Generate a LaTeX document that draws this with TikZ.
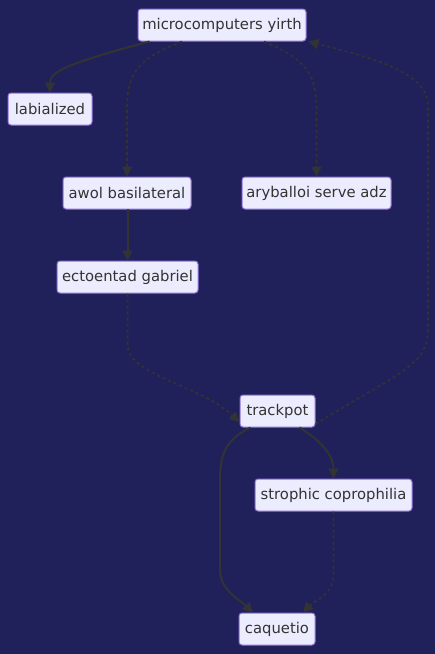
\documentclass[tikz,border=0pt]{standalone}
\usepackage{fontspec}
\setmainfont{DejaVu Sans}
\usetikzlibrary{arrows.meta}
\definecolor{bgc}{HTML}{20215A}
\definecolor{nfill}{HTML}{ECECFF}
\definecolor{nborder}{HTML}{9370DB}
\definecolor{ntext}{HTML}{333333}
\definecolor{edgec}{HTML}{333333}
\tikzset{
  box/.style={draw=nborder, fill=nfill, line width=1pt, rounded corners=3pt,
    minimum height=32pt, inner sep=0pt, text=ntext, font=\fontsize{14.8}{17}\selectfont},
  solidedge/.style={draw=edgec, line width=2pt, -{Triangle[length=10pt,width=10pt]}},
  dotedge/.style={draw=edgec, line width=1.6pt, dash pattern=on 3pt off 3pt, -{Triangle[length=10pt,width=10pt]}},
}
\begin{document}
\begin{tikzpicture}[x=1pt,y=-1pt]
\fill[bgc] (0,0) rectangle (435,654);
\useasboundingbox (0,0) rectangle (435,654);
\node[box, minimum width=168pt] (micro) at (222,25) {microcomputers yirth};
\node[box, minimum width=84pt] (lab) at (50,109) {labialized};
\node[box, minimum width=128pt] (awol) at (127,193) {awol basilateral};
\node[box, minimum width=149pt] (ary) at (316.5,193) {aryballoi serve adz};
\node[box, minimum width=141pt] (ecto) at (127.5,277) {ectoentad gabriel};
\node[box, minimum width=75pt] (track) at (277.5,411) {trackpot};
\node[box, minimum width=157pt] (stro) at (333.5,495) {strophic coprophilia};
\node[box, minimum width=76pt] (caq) at (277,629) {caquetio};

\coordinate (m1) at ([xshift=12pt]micro.south west);
\coordinate (m2) at ([xshift=-40pt]micro.south);
\coordinate (m3) at ([xshift=42pt]micro.south);

\draw[solidedge] (m1) .. controls (65,64) and (50,72) .. (lab.north);
\draw[dotedge] (m2) .. controls (135,60) and (127,75) .. (127,110) -- (awol.north);
\draw[dotedge] (m3) .. controls (308,60) and (316.5,75) .. (316.5,110) -- (ary.north);
\draw[solidedge] (awol.south) -- (ecto.south |- awol.south) -- (ecto.north);
\draw[dotedge] (ecto.south) -- (127.5,345) .. controls (127.5,375) and (200,385) .. ([yshift=-11pt]track.west);
\draw[dotedge] ([yshift=-13pt]track.east) .. controls (400,372) and (428,365) .. (428,330) -- (428,105) .. controls (428,70) and (360,55) .. ([xshift=2pt]micro.south east);
\draw[solidedge] ([xshift=22pt]track.south) .. controls (320,440) and (333.5,455) .. (stro.north);
\draw[solidedge] ([xshift=-27pt]track.south) .. controls (225,440) and (220,455) .. (220,480) -- (220,570) .. controls (220,590) and (240,600) .. ([xshift=-24pt]caq.north);
\draw[dotedge] (stro.south) -- (333.5,575) .. controls (333.5,595) and (315,600) .. ([xshift=26pt]caq.north);
\end{tikzpicture}
\end{document}
